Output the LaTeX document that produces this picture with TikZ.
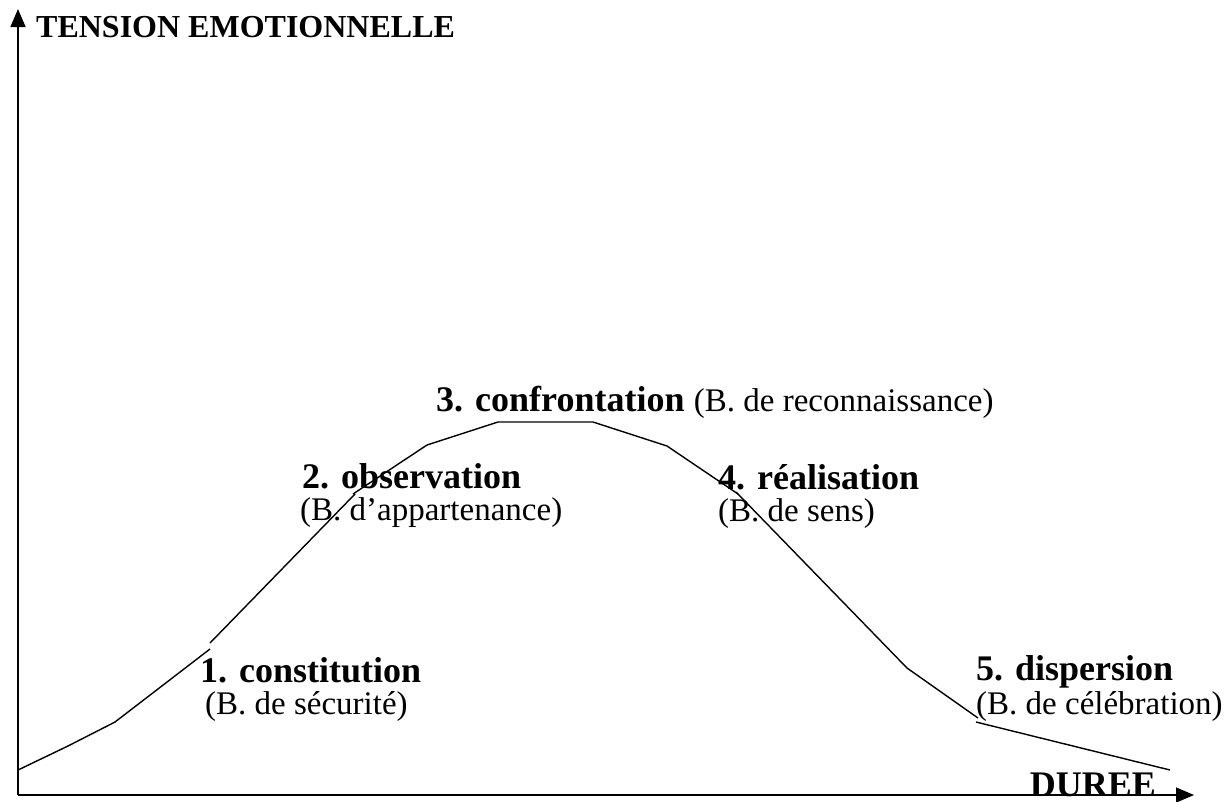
\documentclass[tikz,border=0pt]{standalone}
\usepackage{fontspec}
\setmainfont{Liberation Serif}
\usetikzlibrary{arrows.meta}

\begin{document}
\begin{tikzpicture}[x=1pt,y=-1pt,
  stage/.style={anchor=base west,inner sep=0pt,font=\fontsize{36}{40}\selectfont\bfseries},
  need/.style={anchor=base west,inner sep=0pt,font=\fontsize{33}{38}\selectfont},
  axis/.style={line width=1.6pt,-{Triangle[length=18pt,width=15pt]}},
  curve/.style={line width=1.4pt}]
\useasboundingbox (0,0) rectangle (1228,801);
% axes
\coordinate (o) at (18,795);
\coordinate (ytop) at (18,9);
\coordinate (xend) at (1194,795);
\draw[axis] (o) -- (ytop);
\draw[axis] (o) -- (xend);
\node[anchor=base west,inner sep=0pt,font=\fontsize{32}{36}\selectfont\bfseries] (tension) at (36,37) {TENSION EMOTIONNELLE};
\node[anchor=base east,inner sep=0pt,text depth=0pt,font=\fontsize{36}{40}\selectfont\bfseries] (duree) at (1156,796) {DUREE};
% points of the curve
\coordinate (p1) at (18,770);
\coordinate (p2) at (68,746);
\coordinate (p3) at (115,722);
\coordinate (p4) at (210,649);
\coordinate (p5) at (210,643);
\coordinate (p6) at (355,494);
\coordinate (p7) at (353,494);
\coordinate (p8) at (427,445);
\coordinate (p9) at (498,422);
\coordinate (p10) at (593,422);
\coordinate (p11) at (667,446);
\coordinate (p12) at (738,494);
\coordinate (p13) at (736,492);
\coordinate (p14) at (907,668);
\coordinate (p15) at (978,718);
\coordinate (p16) at (976,722);
\coordinate (p17) at (1073,746);
\coordinate (p18) at (1170,770);
\draw[curve] (p1) -- (p2) -- (p3) -- (p4);
\draw[curve] (p5) -- (p6);
\draw[curve] (p7) -- (p8) -- (p9) -- (p10) -- (p11) -- (p12);
\draw[curve] (p13) -- (p14) -- (p15);
\draw[curve] (p16) -- (p17) -- (p18);
% stages
\node[stage] (s1) at (200,682) {1. constitution};
\node[need] (b1) at (205,714) {(B. de sécurité)};
\node[stage] (s2) at (302,488) {2. observation};
\node[need] (b2) at (300,520) {(B. d’appartenance)};
\node[stage] (s3) at (436,411) {3. confrontation};
\node[need] (b3) at ([xshift=9pt]s3.base east) {(B. de reconnaissance)};
\node[stage] (s4) at (718,489) {4. réalisation};
\node[need] (b4) at (718,521) {(B. de sens)};
\node[stage] (s5) at (976,680) {5. dispersion};
\node[need] (b5) at (976,714) {(B. de célébration)};
\end{tikzpicture}
\end{document}
